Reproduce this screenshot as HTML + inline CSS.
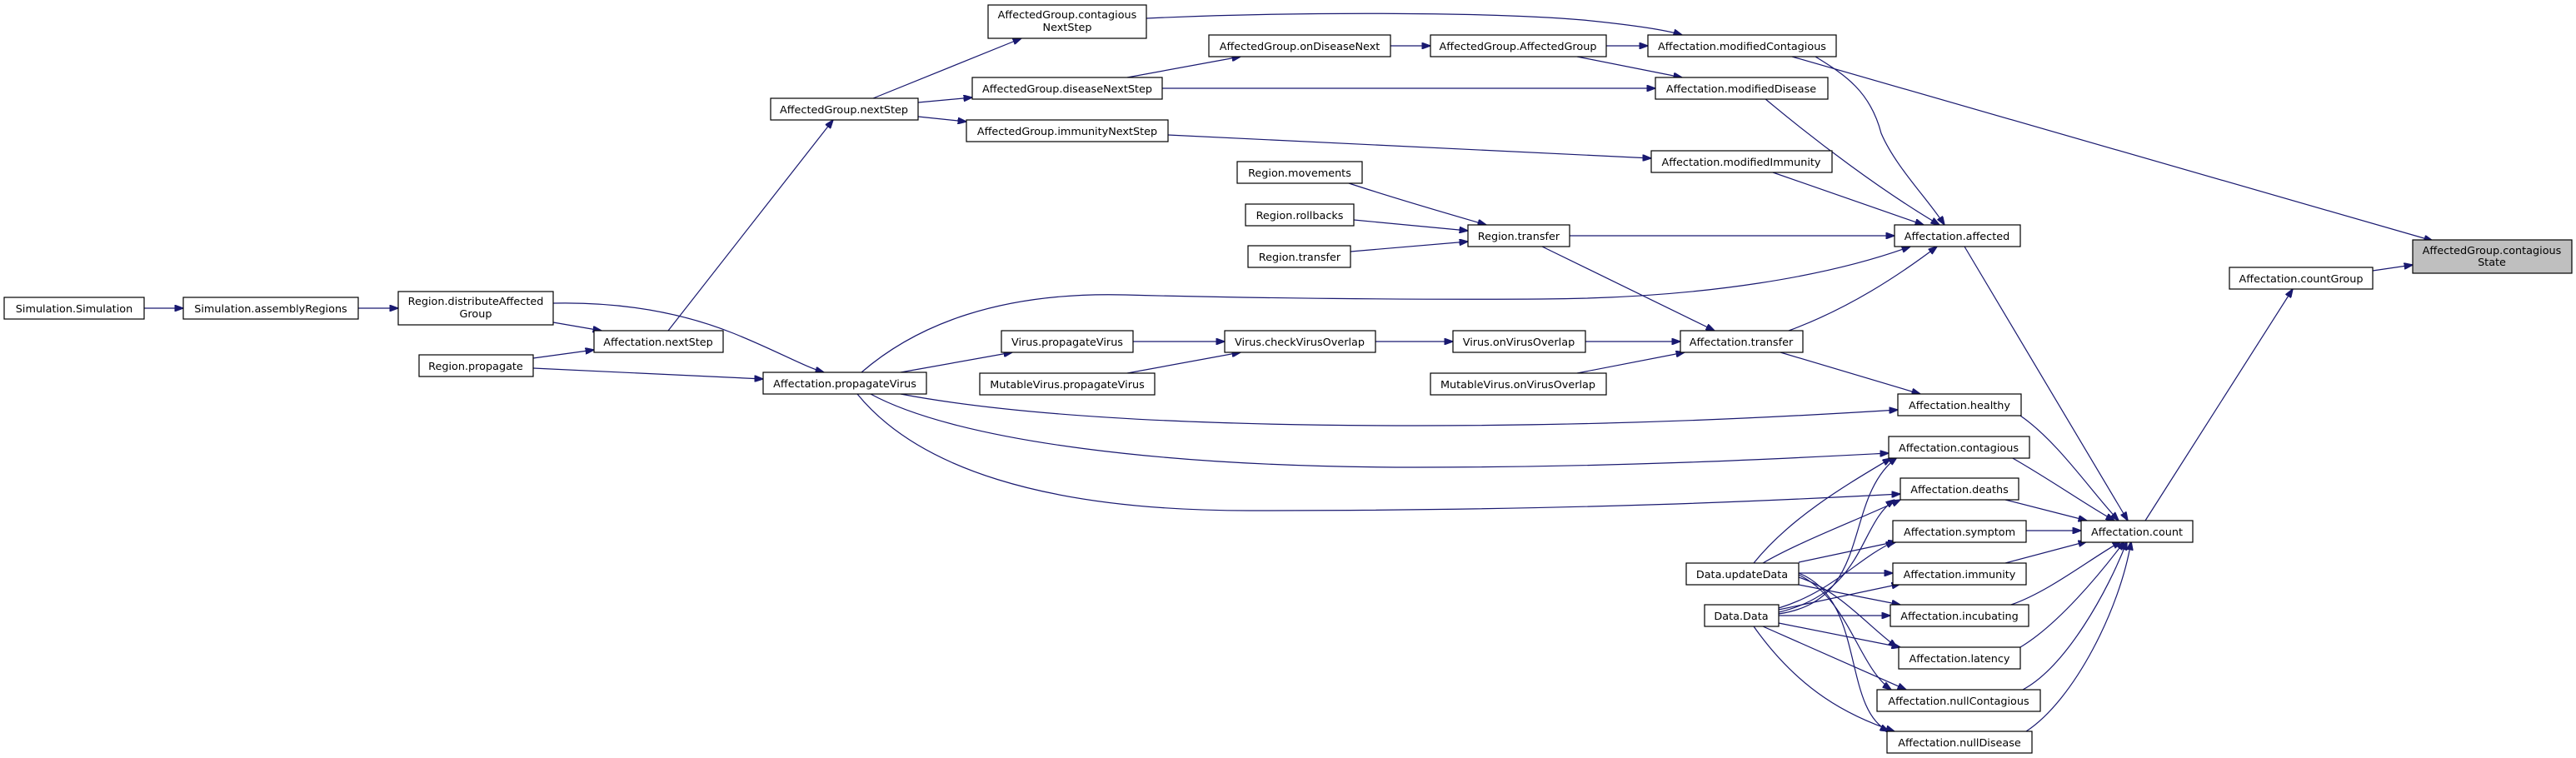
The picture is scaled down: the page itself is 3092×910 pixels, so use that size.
<!DOCTYPE html>
<html><head><meta charset="utf-8"><style>
html,body{margin:0;padding:0;background:#fff;}
svg{display:block;}
.n{fill:#fff;stroke:#000;stroke-width:1.2;}
.r{fill:#bfbfbf;stroke:#000;stroke-width:1.2;}
.e{fill:none;stroke:#191970;stroke-width:1.2;}
text{font-family:"DejaVu Sans","Liberation Sans",sans-serif;font-size:12.8px;fill:#000;text-anchor:middle;}
</style></head><body>
<svg width="3092" height="910" viewBox="0 0 3092 910" xmlns="http://www.w3.org/2000/svg">
<defs><marker id="a" markerWidth="11" markerHeight="8" refX="10.5" refY="4" orient="auto" markerUnits="userSpaceOnUse"><path d="M0,0 L11,4 L0,8 z" fill="#191970" stroke="#191970"/></marker></defs>
<g marker-end="url(#a)">
<path class="e" d="M173,370 L220,370"/>
<path class="e" d="M430,370 L478,370"/>
<path class="e" d="M664,387 L722,397"/>
<path class="e" d="M664,364 C760,362 830,380 880,400 C930,420 965,440 989,447"/>
<path class="e" d="M640,430 L713,420"/>
<path class="e" d="M640,442 L916,455"/>
<path class="e" d="M802,397 L1000,144"/>
<path class="e" d="M1048,118 L1226,46"/>
<path class="e" d="M1102,123 L1167,117"/>
<path class="e" d="M1102,140 L1160,146"/>
<path class="e" d="M1353,93 L1489,68"/>
<path class="e" d="M1669,55 L1717,55"/>
<path class="e" d="M1928,55 L1978,55"/>
<path class="e" d="M1893,68 L2019,93"/>
<path class="e" d="M1376,22 C1550,14 1780,14 1900,24 C1960,30 2000,36 2019,42"/>
<path class="e" d="M1395,106 L1987,106"/>
<path class="e" d="M1402,162 L1982,190"/>
<path class="e" d="M2151,68 L2920,289"/>
<path class="e" d="M2179,68 C2215,90 2245,110 2258,160 C2275,200 2315,240 2334,270"/>
<path class="e" d="M2118,118 C2180,170 2260,230 2328,270"/>
<path class="e" d="M2128,207 L2309,270"/>
<path class="e" d="M1884,283 L2274,283"/>
<path class="e" d="M1619,220 C1680,240 1750,260 1784,270"/>
<path class="e" d="M1625,264 L1762,277"/>
<path class="e" d="M1621,302 L1762,290"/>
<path class="e" d="M1851,296 L2058,397"/>
<path class="e" d="M1034,447 C1100,390 1200,350 1351,354 C1500,358 1700,360 1850,359 C2050,358 2200,330 2293,296"/>
<path class="e" d="M2147,397 C2220,370 2280,330 2325,296"/>
<path class="e" d="M1081,447 L1215,423"/>
<path class="e" d="M1360,410 L1470,410"/>
<path class="e" d="M1353,448 L1489,423"/>
<path class="e" d="M1651,410 L1744,410"/>
<path class="e" d="M1903,410 L2017,410"/>
<path class="e" d="M1893,448 L2022,423"/>
<path class="e" d="M2137,423 L2305,473"/>
<path class="e" d="M1081,473 C1250,505 1500,511 1700,511 C1950,511 2150,500 2278,492"/>
<path class="e" d="M1045,473 C1150,530 1400,561 1700,561 C1950,561 2150,550 2267,544"/>
<path class="e" d="M1029,473 C1100,560 1250,613 1500,613 C1900,613 2150,600 2281,593"/>
<path class="e" d="M2358,296 L2554,625"/>
<path class="e" d="M2425,499 C2470,530 2510,590 2543,625"/>
<path class="e" d="M2414,549 C2460,575 2510,610 2538,625"/>
<path class="e" d="M2407,600 L2505,625"/>
<path class="e" d="M2432,637 L2498,637"/>
<path class="e" d="M2407,676 L2505,650"/>
<path class="e" d="M2414,726 C2460,710 2510,670 2546,650"/>
<path class="e" d="M2425,777 C2470,750 2520,690 2550,650"/>
<path class="e" d="M2428,828 C2480,800 2530,710 2553,650"/>
<path class="e" d="M2432,878 C2490,840 2545,730 2558,650"/>
<path class="e" d="M2575,625 L2752,347"/>
<path class="e" d="M2848,325 L2896,318"/>
<path class="e" d="M2105,676 C2150,620 2220,580 2270,550"/>
<path class="e" d="M2116,676 C2160,650 2240,620 2281,600"/>
<path class="e" d="M2159,675 L2277,650"/>
<path class="e" d="M2159,688 L2272,688"/>
<path class="e" d="M2159,702 L2281,726"/>
<path class="e" d="M2159,693 C2210,710 2240,750 2277,777"/>
<path class="e" d="M2159,690 C2220,720 2230,800 2270,828"/>
<path class="e" d="M2159,688 C2240,720 2210,850 2267,878"/>
<path class="e" d="M2135,737 C2250,720 2210,600 2277,549"/>
<path class="e" d="M2135,735 C2240,710 2230,630 2274,600"/>
<path class="e" d="M2135,730 C2200,710 2230,670 2274,650"/>
<path class="e" d="M2135,732 L2281,701"/>
<path class="e" d="M2135,739 L2269,739"/>
<path class="e" d="M2135,748 L2281,777"/>
<path class="e" d="M2116,752 L2288,828"/>
<path class="e" d="M2105,752 C2160,830 2220,860 2274,878"/>
</g>
<g>
<rect class="n" x="5" y="357" width="168" height="26"/><text x="89" y="375">Simulation.Simulation</text>
<rect class="n" x="220" y="357" width="210" height="26"/><text x="325" y="375">Simulation.assemblyRegions</text>
<rect class="n" x="478" y="350" width="186" height="40"/><text x="571" y="366">Region.distributeAffected</text><text x="571" y="381">Group</text>
<rect class="n" x="713" y="397" width="155" height="26"/><text x="790" y="415">Affectation.nextStep</text>
<rect class="n" x="503" y="426" width="137" height="26"/><text x="571" y="444">Region.propagate</text>
<rect class="n" x="916" y="447" width="196" height="26"/><text x="1014" y="465">Affectation.propagateVirus</text>
<rect class="n" x="925" y="118" width="177" height="26"/><text x="1013" y="136">AffectedGroup.nextStep</text>
<rect class="n" x="1186" y="6" width="190" height="40"/><text x="1281" y="22">AffectedGroup.contagious</text><text x="1281" y="37">NextStep</text>
<rect class="n" x="1451" y="42" width="218" height="26"/><text x="1560" y="60">AffectedGroup.onDiseaseNext</text>
<rect class="n" x="1717" y="42" width="211" height="26"/><text x="1822" y="60">AffectedGroup.AffectedGroup</text>
<rect class="n" x="1978" y="42" width="226" height="26"/><text x="2091" y="60">Affectation.modifiedContagious</text>
<rect class="n" x="1167" y="93" width="228" height="26"/><text x="1281" y="111">AffectedGroup.diseaseNextStep</text>
<rect class="n" x="1987" y="93" width="207" height="26"/><text x="2090" y="111">Affectation.modifiedDisease</text>
<rect class="n" x="1160" y="144" width="242" height="26"/><text x="1281" y="162">AffectedGroup.immunityNextStep</text>
<rect class="n" x="1982" y="181" width="217" height="26"/><text x="2090" y="199">Affectation.modifiedImmunity</text>
<rect class="n" x="1485" y="194" width="150" height="26"/><text x="1560" y="212">Region.movements</text>
<rect class="n" x="1495" y="245" width="130" height="26"/><text x="1560" y="263">Region.rollbacks</text>
<rect class="n" x="1498" y="295" width="123" height="26"/><text x="1560" y="313">Region.transfer</text>
<rect class="n" x="1762" y="270" width="122" height="26"/><text x="1823" y="288">Region.transfer</text>
<rect class="n" x="2274" y="270" width="151" height="26"/><text x="2349" y="288">Affectation.affected</text>
<rect class="n" x="1202" y="397" width="158" height="26"/><text x="1281" y="415">Virus.propagateVirus</text>
<rect class="n" x="1470" y="397" width="181" height="26"/><text x="1560" y="415">Virus.checkVirusOverlap</text>
<rect class="n" x="1744" y="397" width="159" height="26"/><text x="1823" y="415">Virus.onVirusOverlap</text>
<rect class="n" x="2017" y="397" width="147" height="26"/><text x="2090" y="415">Affectation.transfer</text>
<rect class="n" x="1176" y="448" width="210" height="26"/><text x="1281" y="466">MutableVirus.propagateVirus</text>
<rect class="n" x="1717" y="448" width="211" height="26"/><text x="1822" y="466">MutableVirus.onVirusOverlap</text>
<rect class="n" x="2278" y="473" width="148" height="26"/><text x="2352" y="491">Affectation.healthy</text>
<rect class="n" x="2267" y="524" width="169" height="26"/><text x="2351" y="542">Affectation.contagious</text>
<rect class="n" x="2281" y="574" width="142" height="26"/><text x="2352" y="592">Affectation.deaths</text>
<rect class="n" x="2272" y="625" width="160" height="26"/><text x="2352" y="643">Affectation.symptom</text>
<rect class="n" x="2498" y="625" width="134" height="26"/><text x="2565" y="643">Affectation.count</text>
<rect class="n" x="2272" y="676" width="160" height="26"/><text x="2352" y="694">Affectation.immunity</text>
<rect class="n" x="2269" y="726" width="166" height="26"/><text x="2352" y="744">Affectation.incubating</text>
<rect class="n" x="2279" y="777" width="146" height="26"/><text x="2352" y="795">Affectation.latency</text>
<rect class="n" x="2253" y="828" width="196" height="26"/><text x="2351" y="846">Affectation.nullContagious</text>
<rect class="n" x="2265" y="878" width="174" height="26"/><text x="2352" y="896">Affectation.nullDisease</text>
<rect class="n" x="2024" y="676" width="135" height="26"/><text x="2091" y="694">Data.updateData</text>
<rect class="n" x="2046" y="726" width="89" height="26"/><text x="2090" y="744">Data.Data</text>
<rect class="n" x="2676" y="321" width="172" height="26"/><text x="2762" y="339">Affectation.countGroup</text>
<rect class="r" x="2896" y="288" width="191" height="40"/><text x="2991" y="305">AffectedGroup.contagious</text><text x="2991" y="319">State</text>
</g>
</svg>
</body></html>
